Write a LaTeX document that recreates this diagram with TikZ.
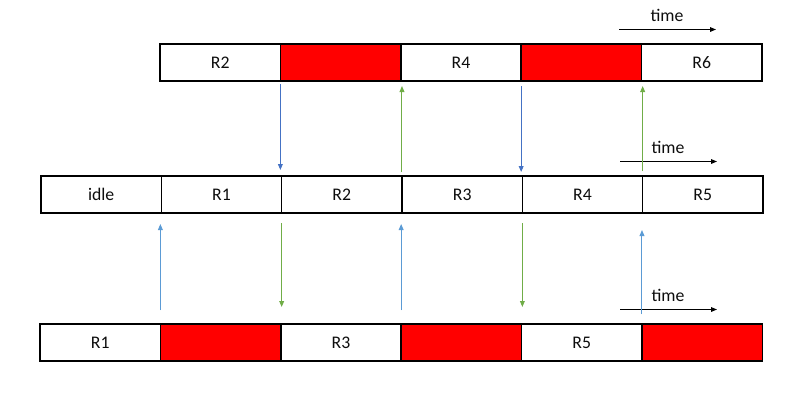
\documentclass[tikz,border=0pt]{standalone}
\usepackage{fontspec}
\setmainfont{Carlito}
\usetikzlibrary{arrows.meta}
\definecolor{cred}{HTML}{FF0000}
\definecolor{dkblue}{HTML}{4472C4}
\definecolor{ltblue}{HTML}{5B9BD5}
\definecolor{cgreen}{HTML}{70AD47}
\definecolor{txt}{HTML}{0D0D0D}
\begin{document}
\begin{tikzpicture}[x=0.75pt,y=-0.75pt,
  cell/.style={draw=black,line width=1.2pt,minimum width=90.25pt,minimum height=27.75pt,inner sep=0pt,outer sep=0pt,text=txt,font=\fontsize{13.3}{15}\selectfont},
  busy/.style={cell,fill=cred},
  conn/.style={line width=0.75pt,-{Triangle[length=4.5pt,width=3.6pt]}},
  dk/.style={conn,draw=dkblue,fill=dkblue},
  lt/.style={conn,draw=ltblue,fill=ltblue},
  gr/.style={conn,draw=cgreen,fill=cgreen},
  timearr/.style={line width=0.75pt,black,-{Triangle[length=4.5pt,width=3.5pt]}},
  timelbl/.style={font=\fontsize{13.3}{15}\selectfont,text=txt,inner sep=0pt}]
\useasboundingbox (0,0) rectangle (797,415);
% top row
\node[cell] (t1) at (220.2,62.5) {R2};
\node[busy] (t2) at (340.6,62.5) {};
\node[cell] (t3) at (461,62.5) {R4};
\node[busy] (t4) at (581.4,62.5) {};
\node[cell] (t5) at (701.8,62.5) {R6};
% middle row
\node[cell] (m1) at (101.2,194.5) {idle};
\node[cell] (m2) at (221.5,194.5) {R1};
\node[cell] (m3) at (341.8,194.5) {R2};
\node[cell] (m4) at (462.2,194.5) {R3};
\node[cell] (m5) at (582.5,194.5) {R4};
\node[cell] (m6) at (702.8,194.5) {R5};
% bottom row
\node[cell] (b1) at (100.2,342.5) {R1};
\node[busy] (b2) at (220.6,342.5) {};
\node[cell] (b3) at (341,342.5) {R3};
\node[busy] (b4) at (461.4,342.5) {};
\node[cell] (b5) at (581.8,342.5) {R5};
\node[busy] (b6) at (702.2,342.5) {};
% time labels
\node[timelbl] (tl1) at (667,15) {time};
\coordinate (ta1) at (619,29.5);
\coordinate (tb1) at (716,29.5);
\draw[timearr] (ta1) -- (tb1);
\node[timelbl] (tl2) at (668,147) {time};
\coordinate (ta2) at (620,161.5);
\coordinate (tb2) at (717,161.5);
\draw[timearr] (ta2) -- (tb2);
\node[timelbl] (tl3) at (668,295) {time};
\coordinate (ta3) at (620,309.5);
\coordinate (tb3) at (717,309.5);
\draw[timearr] (ta3) -- (tb3);
% top-middle connectors
\draw[dk,shorten <=2.25pt,shorten >=4.5pt] (t1.south east) -- (t1.south east |- m2.north);
\draw[gr,shorten <=3pt,shorten >=3.75pt] (m3.north east) -- (m3.north east |- t2.south);
\draw[dk,shorten <=3.75pt,shorten >=3pt] (t3.south east) -- (t3.south east |- m4.north);
\draw[gr,shorten <=3.75pt,shorten >=3.75pt] (m5.north east) -- (m5.north east |- t4.south);
% middle-bottom connectors
\draw[lt,shorten <=10.5pt,shorten >=8.25pt] (b1.north east) -- (b1.north east |- m1.south);
\draw[gr,shorten <=7.5pt,shorten >=12.75pt] (m2.south east) -- (m2.south east |- b2.north);
\draw[lt,shorten <=10.5pt,shorten >=8.25pt] (b3.north east) -- (b3.north east |- m3.south);
\draw[gr,shorten <=7.5pt,shorten >=12.75pt] (m4.south east) -- (m4.south east |- b4.north);
\draw[lt,shorten <=7.5pt,shorten >=12.75pt] (b5.north east) -- (b5.north east |- m5.south);
\end{tikzpicture}
\end{document}
